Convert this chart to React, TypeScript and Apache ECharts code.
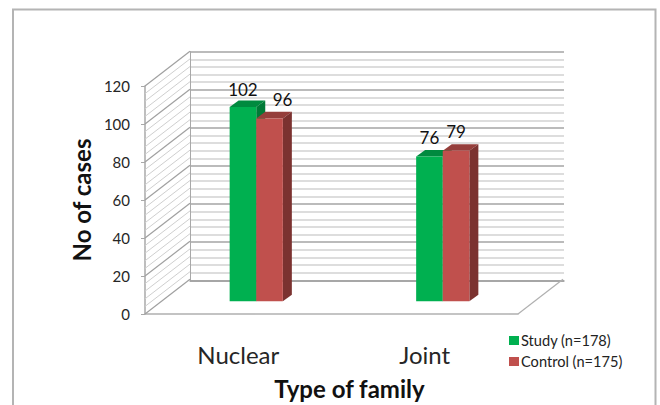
import React, { useEffect, useRef } from "react";
import * as echarts from "echarts";

const categories = ["Nuclear", "Joint"];
const studyValues = [102, 76];
const controlValues = [96, 79];
const studyName = "Study (n=178)";
const controlName = "Control (n=175)";
const wallTicks = [0, 4, 8, 12, 16, 20, 24, 28, 32, 36, 40, 44, 48, 52, 56, 60, 64, 68, 72, 76, 80, 84, 88, 92, 96, 100, 104, 108, 112, 116, 120];

const FONT = "Lato, 'Open Sans', sans-serif";
const DEPTH_X = 45;
const DEPTH_Y = 34.7;
const BAR_W = 26.6;
const BAR_DX = 9;
const BAR_DY = 6.6;

function wallRender(_: any, api: any) {
  const v = api.value(1);
  const p = api.coord([0, v]);
  const x = p[0] - api.size([1, 0])[0] / 2;
  const major = v % 20 === 0;
  return {
    type: "line",
    silent: true,
    shape: { x1: x, y1: p[1], x2: x + DEPTH_X, y2: p[1] - DEPTH_Y },
    style: { stroke: major ? "#a0a0a0" : "#cfcfcf", lineWidth: major ? 1.2 : 1 },
  };
}

function floorRender(_: any, api: any) {
  const p = api.coord([1, 0]);
  const x = p[0] + api.size([1, 0])[0] / 2;
  return {
    type: "line",
    silent: true,
    shape: { x1: x, y1: p[1], x2: x + DEPTH_X, y2: p[1] - DEPTH_Y },
    style: { stroke: "#b0b0b0", lineWidth: 1.2 },
  };
}

function depthRender(offsetDir: number, top: string, side: string) {
  return (_: any, api: any) => {
    const p = api.coord([api.value(0), api.value(1)]);
    const base = api.coord([api.value(0), 0]);
    const l = p[0] + (offsetDir < 0 ? -BAR_W : 0);
    const r = l + BAR_W;
    return {
      type: "group",
      silent: true,
      children: [
        {
          type: "polygon",
          shape: { points: [[l, p[1]], [l + BAR_DX, p[1] - BAR_DY], [r + BAR_DX, p[1] - BAR_DY], [r, p[1]]] },
          style: { fill: top },
        },
        {
          type: "polygon",
          shape: { points: [[r, p[1]], [r + BAR_DX, p[1] - BAR_DY], [r + BAR_DX, base[1] - BAR_DY], [r, base[1]]] },
          style: { fill: side },
        },
      ],
    };
  };
}

const option: any = {
  animation: false,
  backgroundColor: "#ffffff",
  textStyle: { fontFamily: FONT },
  graphic: [
    {
      type: "rect",
      silent: true,
      z: -1,
      shape: { x: 13, y: 9.5, width: 642.5, height: 420 },
      style: { fill: "#ffffff", stroke: "#b4b4b4", lineWidth: 2 },
    },
  ],
  legend: {
    data: [studyName, controlName],
    orient: "vertical",
    left: 504,
    top: 328,
    itemWidth: 10,
    itemHeight: 9,
    itemGap: 6,
    icon: "rect",
    textStyle: { fontFamily: FONT, fontSize: 14.6, color: "#222222", padding: [0, 0, 0, -3] },
  },
  grid: [
    { left: 145, top: 86, width: 373, height: 229 },
    { left: 190, top: 51.7, width: 374, height: 228.6 },
    { left: 163, top: 72.7, width: 373, height: 228.6 },
  ],
  xAxis: [
    {
      type: "category",
      gridIndex: 0,
      data: categories,
      axisTick: { show: false },
      axisLine: { lineStyle: { color: "#b0b0b0", width: 1.5 } },
      axisLabel: { fontFamily: FONT, fontSize: 24, color: "#262626", margin: 28 },
      name: "Type of family",
      nameLocation: "middle",
      nameGap: 62,
      nameTextStyle: { fontFamily: FONT, fontSize: 24, fontWeight: "bold", color: "#111111", padding: [0, 0, 0, 36] },
    },
    {
      type: "category",
      gridIndex: 1,
      data: categories,
      axisTick: { show: false },
      axisLabel: { show: false },
      axisLine: { lineStyle: { color: "#a0a0a0", width: 1.5 } },
    },
    {
      type: "category",
      gridIndex: 2,
      data: categories,
      axisLine: { show: false },
      axisTick: { show: false },
      axisLabel: { show: false },
    },
  ],
  yAxis: [
    {
      type: "value",
      gridIndex: 0,
      min: 0,
      max: 120,
      interval: 20,
      axisLine: { show: true, lineStyle: { color: "#a8a8a8", width: 1.5 } },
      axisTick: { show: true, length: 4, lineStyle: { color: "#a8a8a8" } },
      axisLabel: { fontFamily: FONT, fontSize: 15, color: "#262626", margin: 15, padding: [3, 0, 0, 0] },
      splitLine: { show: false },
      name: "No of cases",
      nameLocation: "middle",
      nameGap: 47,
      nameTextStyle: { fontFamily: FONT, fontSize: 24, fontWeight: "bold", color: "#111111" },
    },
    {
      type: "value",
      gridIndex: 1,
      min: 0,
      max: 120,
      interval: 20,
      axisLine: { show: true, lineStyle: { color: "#a8a8a8", width: 1 } },
      axisTick: { show: false },
      axisLabel: { show: false },
      splitLine: { show: true, lineStyle: { color: "#a4a4a4", width: 1.5 } },
      minorTick: { show: false, splitNumber: 5 },
      minorSplitLine: { show: true, lineStyle: { color: "#d2d2d2", width: 1.6 } },
    },
    {
      type: "value",
      gridIndex: 2,
      min: 0,
      max: 120,
      interval: 20,
      axisLine: { show: false },
      axisTick: { show: false },
      axisLabel: { show: false },
      splitLine: { show: false },
    },
  ],
  series: [
    {
      name: "wall",
      type: "custom",
      xAxisIndex: 0,
      yAxisIndex: 0,
      silent: true,
      clip: false,
      z: 1,
      renderItem: wallRender,
      data: wallTicks.map((v) => [0, v]),
    },
    {
      name: "floor",
      type: "custom",
      xAxisIndex: 0,
      yAxisIndex: 0,
      silent: true,
      clip: false,
      z: 1,
      renderItem: floorRender,
      data: [[1, 0]],
    },
    {
      name: "study depth",
      type: "custom",
      xAxisIndex: 2,
      yAxisIndex: 2,
      silent: true,
      clip: false,
      z: 3,
      renderItem: depthRender(-1, "#008a3f", "#007a37"),
      data: studyValues.map((v, i) => [i, v]),
    },
    {
      name: "control depth",
      type: "custom",
      xAxisIndex: 2,
      yAxisIndex: 2,
      silent: true,
      clip: false,
      z: 4,
      renderItem: depthRender(1, "#953e3b", "#7b3230"),
      data: controlValues.map((v, i) => [i, v]),
    },
    {
      name: studyName,
      type: "bar",
      xAxisIndex: 2,
      yAxisIndex: 2,
      barWidth: BAR_W,
      barGap: 0,
      z: 5,
      itemStyle: { color: "#00B050" },
      label: { show: true, position: "top", distance: 9, fontFamily: FONT, fontSize: 17, color: "#111111" },
      data: [
        { value: studyValues[0] },
        { value: studyValues[1], label: { offset: [0, -2] } },
      ],
    },
    {
      name: controlName,
      type: "bar",
      xAxisIndex: 2,
      yAxisIndex: 2,
      barWidth: BAR_W,
      barGap: 0,
      z: 5,
      itemStyle: { color: "#C0504D" },
      label: { show: true, position: "top", distance: 9, fontFamily: FONT, fontSize: 17, color: "#111111" },
      data: [
        { value: controlValues[0], label: { offset: [13, -1] } },
        { value: controlValues[1], label: { offset: [0, -2] } },
      ],
    },
  ],
};

export default function App() {
  const ref = useRef<HTMLDivElement>(null);
  useEffect(() => {
    const chart = echarts.init(ref.current!, undefined, { renderer: "svg" });
    chart.setOption(option);
    return () => chart.dispose();
  }, []);
  return <div ref={ref} style={{ position: "absolute", left: 0, top: 0, width: 660, height: 405 }} />;
}
